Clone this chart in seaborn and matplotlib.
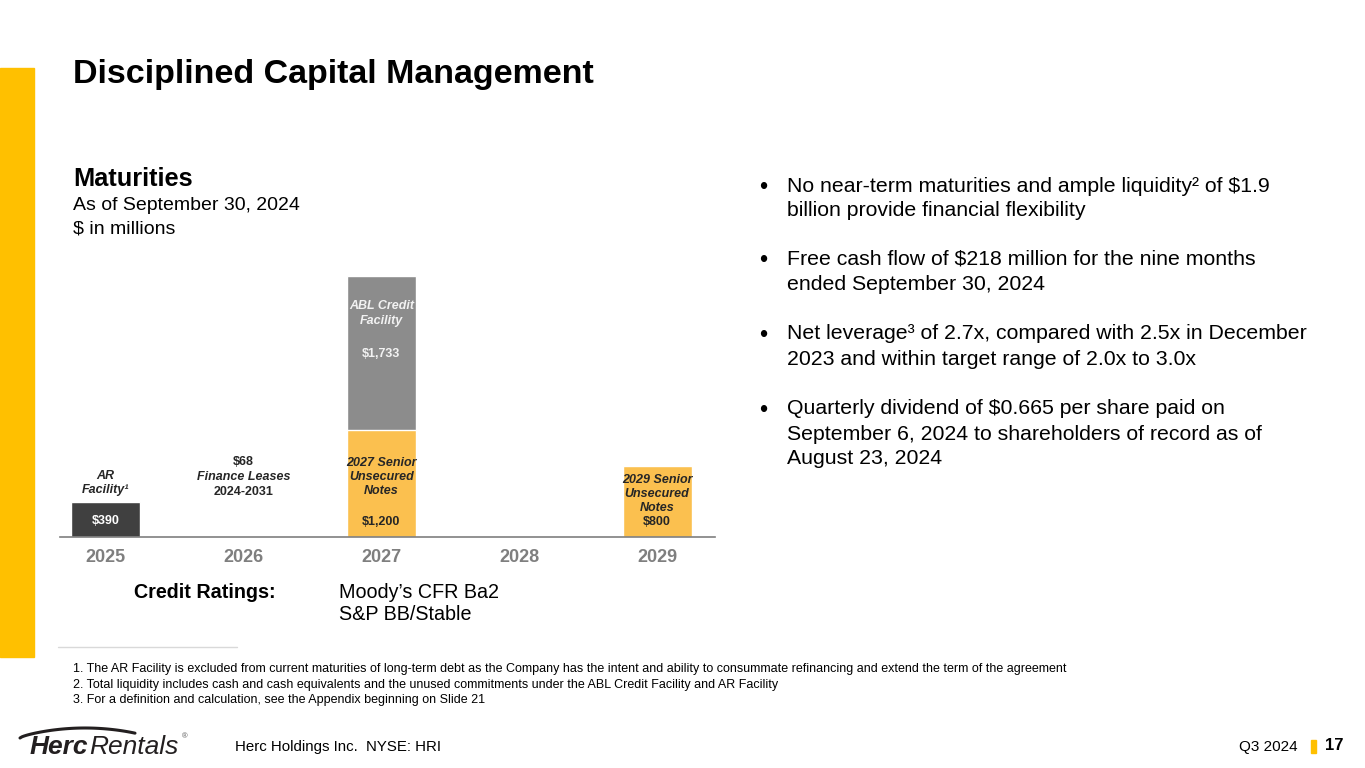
import matplotlib
matplotlib.use('Agg')
import matplotlib.pyplot as plt
import matplotlib.patches as mpatches
from matplotlib.lines import Line2D
import numpy as np
import pandas as pd
import seaborn as sns

# data
years = ['2025', '2026', '2027', '2028', '2029']
base_debt = [390, 68, 1200, 0, 800]          # AR facility, leases, senior notes
abl_debt = [0, 0, 1733, 0, 0]                # ABL credit facility
base_colors = ['#404040', '#FFFFFF', '#FBC04F', '#FFFFFF', '#FBC04F']
abl_color = '#8C8C8C'

bullets = [
    ['No near-term maturities and ample liquidity\u00b2 of $1.9',
     'billion provide financial flexibility'],
    ['Free cash flow of $218 million for the nine months',
     'ended September 30, 2024'],
    ['Net leverage\u00b3 of 2.7x, compared with 2.5x in December',
     '2023 and within target range of 2.0x to 3.0x'],
    ['Quarterly dividend of $0.665 per share paid on',
     'September 6, 2024 to shareholders of record as of',
     'August 23, 2024'],
]
footnotes = [
    '1. The AR Facility is excluded from current maturities of long-term debt as the Company has the intent and ability to consummate refinancing and extend the term of the agreement',
    '2. Total liquidity includes cash and cash equivalents and the unused commitments under the ABL Credit Facility and AR Facility',
    '3. For a definition and calculation, see the Appendix beginning on Slide 21',
]

sns.set_theme(style='white')
plt.rcParams['font.family'] = ['Liberation Sans', 'DejaVu Sans']

W, H = 1365, 768
fig = plt.figure(figsize=(W / 100, H / 100), dpi=100)
fig.patch.set_facecolor('white')


def px(x, y):
    return x / W, 1 - y / H


def ftext(x, y, s, **kw):
    kw.setdefault('va', 'center')
    kw.setdefault('color', 'black')
    return fig.text(*px(x, y), s, **kw)


# yellow side strip
fig.patches.append(mpatches.Rectangle(px(0, 657), 34 / W, 589 / H, transform=fig.transFigure,
                                      color='#FFC000', zorder=0))

# titles
ftext(73, 75, 'Disciplined Capital Management', fontsize=24.5, fontweight='bold')
ftext(73, 179, 'Maturities', fontsize=18.3, fontweight='bold')
ftext(73, 205, 'As of September 30, 2024', fontsize=14)
ftext(73, 229, '$ in millions', fontsize=14)

# chart
df = pd.DataFrame({'year': years, 'base': base_debt, 'abl': abl_debt})
df['total'] = df['base'] + df['abl']

ax = fig.add_axes([60 / W, 1 - 537 / H, 655 / W, 277 / H])
sns.barplot(data=df, x='year', y='total', order=years, color=abl_color,
            width=0.5, saturation=1, ax=ax)
sns.barplot(data=df, x='year', y='base', order=years, hue='year', palette=base_colors,
            width=0.5, saturation=1, legend=False, ax=ax)
ax.set_xlim(-0.33, 4.42)
ax.set_ylim(0, 3112)
ax.set_xlabel('')
ax.set_ylabel('')
ax.set_yticks([])
for s in ['top', 'right', 'left']:
    ax.spines[s].set_visible(False)
ax.spines['bottom'].set_color('#7F7F7F')
ax.spines['bottom'].set_linewidth(1.2)
ax.tick_params(axis='x', length=0, pad=9)
for lab in ax.get_xticklabels():
    lab.set_fontsize(13)
    lab.set_fontweight('bold')
    lab.set_color('#7F7F7F')

lbl = dict(ha='center', va='center', fontsize=9, fontweight='bold')
ax.text(0, 180, f'${base_debt[0]:,}', color='white', **lbl)
ax.text(0, 605, 'AR\nFacility\u00b9', style='italic', linespacing=1.25, **lbl)
ax.text(1, 840, f'${base_debt[1]:,}', **lbl)
ax.text(1, 675, 'Finance Leases', style='italic', **lbl)
ax.text(1, 505, '2024-2031', **lbl)
ax.text(2, 675, '2027 Senior\nUnsecured\nNotes', style='italic', linespacing=1.25, **lbl)
ax.text(2, 170, f'${base_debt[2]:,}', **lbl)
ax.text(2, 2510, 'ABL Credit\nFacility', style='italic', color='#F2F2F2', linespacing=1.25, **lbl)
ax.text(2, 2060, f'${abl_debt[2]:,}', color='#F2F2F2', **lbl)
ax.text(4, 483, '2029 Senior\nUnsecured\nNotes', style='italic', linespacing=1.25, **lbl)
ax.text(4, 170, f'${base_debt[4]:,}', **lbl)

# credit ratings
ftext(134, 592, 'Credit Ratings:', fontsize=14.2, fontweight='bold')
ftext(339, 592, 'Moody\u2019s CFR Ba2', fontsize=14.2)
ftext(339, 614, 'S&P BB/Stable', fontsize=14.2)

# bullets
line_y = [[186, 211], [259, 284], [334, 359], [409, 434, 459]]
for lines, ys in zip(bullets, line_y):
    ftext(759, ys[0] + 2, '\u2022', fontsize=17)
    for s, y in zip(lines, ys):
        ftext(787, y, s, fontsize=15.3)

# footnotes
fig.add_artist(Line2D([58 / W, 237 / W], [1 - 647 / H] * 2, transform=fig.transFigure,
                      color='#D9D9D9', lw=1))
for s, y in zip(footnotes, [669, 685, 700]):
    ftext(73, y, s, fontsize=9)

# footer / logo
t1 = ftext(30, 747, 'Herc', fontsize=19, fontweight='bold', style='italic', color='#231F20')
fig.canvas.draw()
bb = t1.get_window_extent()
ftext(30 + bb.width + 1, 747, 'Rentals', fontsize=19, style='italic', color='#231F20')
sx = np.linspace(20, 135, 60)
sy = 738 - 10 * np.sin(np.pi * (sx - 20) / 130) ** 0.7
fig.add_artist(Line2D(sx / W, 1 - sy / H, transform=fig.transFigure, color='#231F20', lw=2.2,
                      solid_capstyle='round'))
ftext(182, 737, '\u00ae', fontsize=5.5, color='#555555')
ftext(235, 747, 'Herc Holdings Inc.  NYSE: HRI', fontsize=10.8)
ftext(1298, 747, 'Q3 2024', fontsize=11, ha='right')
fig.patches.append(mpatches.Rectangle(px(1311, 753), 5 / W, 13 / H, transform=fig.transFigure,
                                      color='#FFC000'))
ftext(1325, 746, '17', fontsize=12, fontweight='bold')

fig.savefig('out.png', dpi=100)
